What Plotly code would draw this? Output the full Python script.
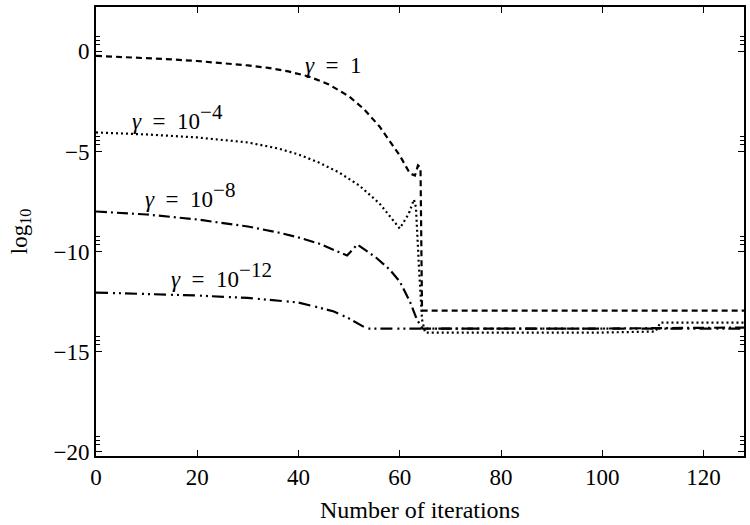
import plotly.graph_objects as go

# gamma = 1 (dashed)
x_g1 = [0, 5, 10, 15, 20, 25, 30, 34, 38, 42, 46, 50, 53, 56, 58, 60, 62, 63, 63.6, 64.1, 64.4, 128]
y_g1 = [-0.22, -0.27, -0.33, -0.4, -0.48, -0.58, -0.7, -0.82, -1.0, -1.25, -1.65, -2.25, -2.9, -3.75, -4.45, -5.2, -6.1, -6.2, -5.7, -5.8, -12.95, -12.95]

# gamma = 1e-4 (dotted)
x_g4 = [0, 10, 20, 30, 36, 40, 44, 48, 52, 56, 60, 61.8, 62.8, 63.2, 63.8, 64.4, 65, 80, 100, 110.5, 111.5, 128]
y_g4 = [-4.05, -4.15, -4.3, -4.55, -4.85, -5.15, -5.55, -6.05, -6.7, -7.6, -8.85, -8.1, -7.4, -7.8, -10.8, -13.4, -14.05, -14.05, -14.05, -14.0, -13.55, -13.55]

# gamma = 1e-8 (dash-dot)
x_g8 = [0, 10, 20, 30, 36, 40, 44, 47, 49.6, 51.6, 55.3, 58, 60, 62, 63.4, 64.5, 80, 100, 128]
y_g8 = [-8.0, -8.15, -8.4, -8.75, -9.05, -9.3, -9.6, -9.9, -10.2, -9.65, -10.3, -10.9, -11.5, -12.5, -13.4, -13.85, -13.85, -13.85, -13.8]

# gamma = 1e-12 (dash-dot-dot)
x_g12 = [0, 10, 20, 30, 36, 40, 44, 47, 50, 53.5, 60, 80, 100, 128]
y_g12 = [-12.05, -12.12, -12.2, -12.32, -12.45, -12.55, -12.8, -13.0, -13.35, -13.85, -13.85, -13.85, -13.85, -13.85]

SUP = "<sup><span style='font-size:21px'>{}</span></sup>"
labels = ["<i>γ</i>&nbsp; =&nbsp; 1",
          "<i>γ</i>&nbsp; =&nbsp; 10" + SUP.format("−4"),
          "<i>γ</i>&nbsp; =&nbsp; 10" + SUP.format("−8"),
          "<i>γ</i>&nbsp; =&nbsp; 10" + SUP.format("−12")]
label_x = [47, 16.1, 18.5, 24.8]
label_y = [-0.7, -3.3, -7.2, -11.15]

x_ticks = [0, 20, 40, 60, 80, 100, 120]
y_ticks = [0, -5, -10, -15, -20]

FONT = "Liberation Serif"
FS = 23

fig = go.Figure()
series = [
    (x_g1, y_g1, "6px,4px"),
    (x_g4, y_g4, "2px,3px"),
    (x_g8, y_g8, "11px,4px,2px,4px"),
    (x_g12, y_g12, "12px,5px,2px,4px,2px,4px"),
]
for xs, ys, dash in series:
    fig.add_trace(go.Scatter(x=xs, y=ys, mode="lines",
                             line=dict(color="black", width=2.2, dash=dash),
                             showlegend=False))

for t, lx, ly in zip(labels, label_x, label_y):
    fig.add_annotation(x=lx, y=ly, text=t, showarrow=False,
                       font=dict(family=FONT, size=FS, color="black"))

minor_y = []
for m in y_ticks:
    minor_y += [m + 0.35, m + 0.55, m + 0.75]

axis_common = dict(showline=True, linecolor="black", linewidth=1.6, mirror="ticks",
                   ticks="inside", ticklen=6, tickwidth=1.2, tickcolor="black",
                   showgrid=False, zeroline=False,
                   tickfont=dict(family=FONT, size=FS, color="black"))

fig.update_xaxes(range=[0, 128], tickvals=x_ticks,
                 title=dict(text="Number of iterations", font=dict(family=FONT, size=24, color="black"), standoff=12),
                 **axis_common)
fig.update_yaxes(range=[-20.22, 2.22], tickvals=y_ticks,
                 ticktext=["0", "−5", "−10", "−15", "−20"],
                 minor=dict(tickmode="array", tickvals=minor_y, ticks="inside", ticklen=4, tickwidth=1, tickcolor="black"),
                 title=dict(text="log<sub>10</sub>", font=dict(family=FONT, size=FS, color="black"), standoff=20),
                 **axis_common)

fig.update_layout(width=750, height=525, margin=dict(l=96, r=4, t=7, b=69),
                  plot_bgcolor="white", paper_bgcolor="white")

fig.write_html("out.html")
